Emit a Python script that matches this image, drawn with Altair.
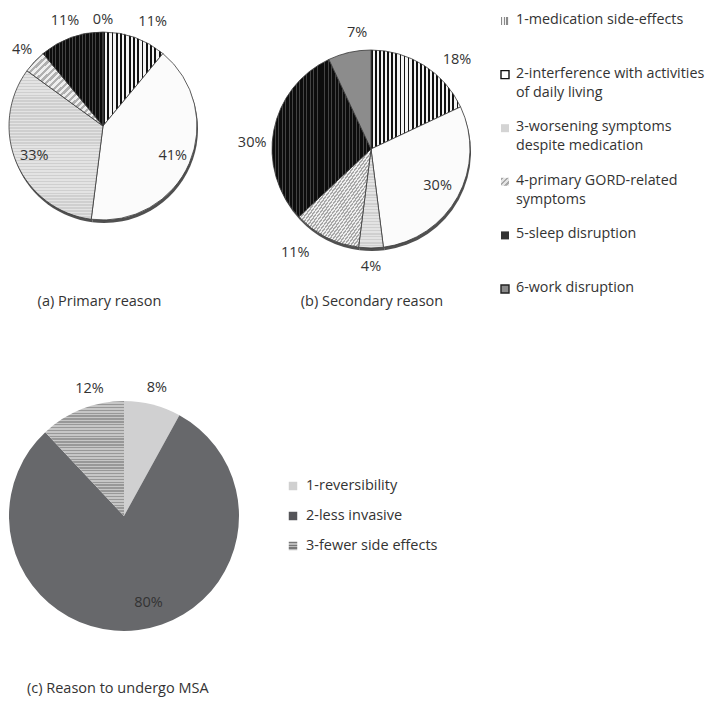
import altair as alt
import pandas as pd

# ---------------- data ----------------
reasons = [
    "1-medication side-effects",
    "2-interference with activities of daily living",
    "3-worsening symptoms despite medication",
    "4-primary GORD-related symptoms",
    "5-sleep disruption",
    "6-work disruption",
]
primary_pct = [11, 41, 33, 4, 11, 0]
secondary_pct = [18, 30, 4, 11, 30, 7]

msa_reasons = ["1-reversibility", "2-less invasive", "3-fewer side effects"]
msa_pct = [8, 80, 12]

panel_titles = ["(a) Primary reason", "(b) Secondary reason", "(c) Reason to undergo MSA"]

# legend text as wrapped in the figure
reason_legend_text = [
    "1-medication side-effects",
    "2-interference with activities\nof daily living",
    "3-worsening symptoms\ndespite medication",
    "4-primary GORD-related\nsymptoms",
    "5-sleep disruption",
    "6-work disruption",
]

# ---------------- label layout (pixels / percent-point nudges) ----------------
primary_label_radius = [115, 76, 75, 111, 112, 106]
primary_label_shift = [1.6, 0, 0, 0, 0, 0]
secondary_label_radius = [124, 76, 118, 129, 119, 117]
secondary_label_shift = [3.2, 0, 0, 2.5, -2.2, 1.6]
msa_label_radius = [132, 90, 132]
msa_label_shift = [0, -2.4, 1.8]

FONT = "Open Sans"
FS = 14.5
TXT = "#333333"


def stripes(c1, c2, n, orient, frac=0.5):
    if orient == "v":
        coords = dict(x1=0, y1=0, x2=1, y2=0)
    elif orient == "h":
        coords = dict(x1=0, y1=0, x2=0, y2=1)
    else:
        coords = dict(x1=0, y1=0, x2=1, y2=1)
    stops = []
    for i in range(n):
        a = round(i / n, 5)
        b = round((i + frac) / n, 5)
        c = round((i + 1) / n, 5)
        stops += [
            {"offset": a, "color": c1},
            {"offset": b, "color": c1},
            {"offset": b, "color": c2},
            {"offset": c, "color": c2},
        ]
    return {"gradient": "linear", **coords, "stops": stops}


def cond_fill(fills):
    return alt.value(
        fills[0], condition=[{"test": f"datum.k == {i}", "value": f} for i, f in enumerate(fills)]
    )


def pie_frame(labels, pct, lr, shift):
    rows = []
    acc = 0
    for i, (lab, p) in enumerate(zip(labels, pct)):
        start = acc
        end = acc + p
        acc = end
        rows.append(
            dict(k=i, reason=lab, pct=p, start=start, end=end,
                 lt=(start + end) / 2 + shift[i], lr=lr[i], label=f"{p}%")
        )
    return pd.DataFrame(rows)


theta_scale = alt.Scale(domain=[0, 100])


def pie_layers(df, cx, cy, r, fills, stroke=True, shadow=True):
    base = alt.Chart(df)
    th = alt.Theta("start:Q", stack=None, scale=theta_scale)
    layers = []
    if shadow:
        layers.append(
            base.mark_arc(radius=r, fill="#505050").encode(
                x=alt.value(cx + 1), y=alt.value(cy + 3), theta=th, theta2="end:Q"
            )
        )
    arc_kwargs = dict(radius=r)
    if stroke:
        arc_kwargs.update(stroke="#3a3a3a", strokeWidth=0.8)
    layers.append(
        base.mark_arc(**arc_kwargs).encode(
            x=alt.value(cx), y=alt.value(cy), theta=th, theta2="end:Q",
            fill=cond_fill(fills),
        )
    )
    layers.append(
        base.mark_text(font=FONT, fontSize=FS, color=TXT, align="center", baseline="middle").encode(
            x=alt.value(cx), y=alt.value(cy),
            theta=alt.Theta("lt:Q", stack=None, scale=theta_scale),
            radius=alt.Radius("lr:Q", scale=None),
            text="label:N",
        )
    )
    return layers


# ---------------- pies ----------------
df_a = pie_frame(reasons, primary_pct, primary_label_radius, primary_label_shift)
df_b = pie_frame(reasons, secondary_pct, secondary_label_radius, secondary_label_shift)
df_c = pie_frame(msa_reasons, msa_pct, msa_label_radius, msa_label_shift)

fills_a = [
    stripes("#111111", "#f4f4f4", 14, "v", 0.45),
    "#fbfbfb",
    stripes("#cfcfcf", "#e3e3e3", 50, "h"),
    stripes("#b0b0b0", "#eeeeee", 22, "d"),
    stripes("#0d0d0d", "#444444", 18, "v", 0.72),
    "#8c8c8c",
]
fills_b = [
    stripes("#111111", "#f4f4f4", 22, "v", 0.45),
    "#fbfbfb",
    stripes("#cfcfcf", "#e3e3e3", 33, "h"),
    stripes("#a8a8a8", "#eeeeee", 45, "d"),
    stripes("#0d0d0d", "#444444", 28, "v", 0.72),
    "#8c8c8c",
]
fills_c = [
    "#d0d0d1",
    "#67686b",
    stripes("#989898", "#c6c6c6", 40, "h"),
]

layers = []
layers += pie_layers(df_a, 95, 118, 94, fills_a)
layers += pie_layers(df_b, 363, 141, 99, fills_b)
layers += pie_layers(df_c, 116, 508, 115, fills_c, stroke=False, shadow=False)

# ---------------- legends ----------------
leg1 = pd.DataFrame({"k": list(range(len(reasons))), "reason": reasons, "text": reason_legend_text})
leg1_fills = [
    stripes("#8a8a8a", "#f2f2f2", 3, "v"),
    "#ffffff",
    "#d4d4d4",
    stripes("#a8a8a8", "#e4e4e4", 3, "d"),
    "#333333",
    "#8a8a8a",
]
y1 = alt.Y("k:O", scale=alt.Scale(type="point", domain=list(range(6)), range=[13, 281], padding=0), axis=None)
layers.append(
    alt.Chart(leg1).mark_square(size=64, opacity=1).encode(
        x=alt.value(497), y=y1,
        fill=cond_fill(leg1_fills),
        stroke=alt.value("transparent", condition=[
            {"test": "datum.k == 1", "value": "#111111"},
            {"test": "datum.k == 5", "value": "#222222"},
        ]),
        strokeWidth=alt.value(1.4),
    )
)
layers.append(
    alt.Chart(leg1).mark_text(font=FONT, fontSize=14.3, color=TXT, align="left", baseline="top",
                              dy=-8, lineBreak="\n", lineHeight=19).encode(
        x=alt.value(508), y=y1, text="text:N"
    )
)

leg2 = pd.DataFrame({"k": list(range(len(msa_reasons))), "text": msa_reasons})
leg2_fills = ["#d0d0d0", "#555559", stripes("#777777", "#bbbbbb", 3, "h")]
y2 = alt.Y("k:O", scale=alt.Scale(type="point", domain=list(range(3)), range=[478, 538], padding=0), axis=None)
layers.append(
    alt.Chart(leg2).mark_square(size=72, opacity=1).encode(
        x=alt.value(285), y=y2, fill=cond_fill(leg2_fills)
    )
)
layers.append(
    alt.Chart(leg2).mark_text(font=FONT, fontSize=FS, color=TXT, align="left", baseline="middle").encode(
        x=alt.value(298), y=y2, text="text:N"
    )
)

# ---------------- panel captions ----------------
title_pos = [(91.5, 294, "center"), (364, 294, "center"), (19, 681, "left")]
for t, (tx, ty, al) in zip(panel_titles, title_pos):
    layers.append(
        alt.Chart(pd.DataFrame({"t": [t]})).mark_text(
            font=FONT, fontSize=FS, color=TXT, align=al, baseline="middle"
        ).encode(x=alt.value(tx), y=alt.value(ty), text="t:N")
    )

chart = (
    alt.layer(*layers)
    .resolve_scale(y="independent")
    .properties(width=702, height=690, autosize="none", padding=0, background="white")
    .configure_view(strokeWidth=0)
)

chart.save("out.html", embed_options={"renderer": "svg", "actions": False})
